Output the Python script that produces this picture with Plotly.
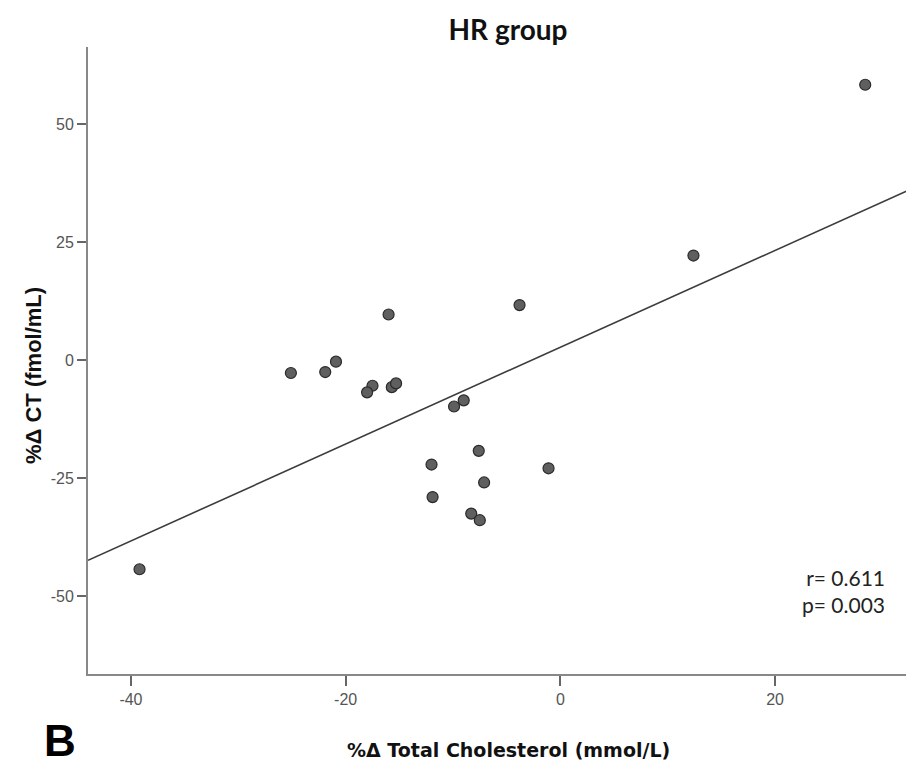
import plotly.graph_objects as go

# Scatter data
tc_change = [-16.0, -3.8, -25.1, -21.9, -20.9, -17.5, -18.0, -15.7, -15.3,
             -9.9, -9.0, -7.6, -12.0, -1.1, -7.1, -11.9, -8.3, -7.5,
             -39.2, 12.4, 28.4]
ct_change = [9.7, 11.7, -2.7, -2.5, -0.3, -5.4, -6.8, -5.7, -4.9,
             -9.8, -8.5, -19.2, -22.1, -22.9, -25.9, -29.0, -32.5, -33.9,
             -44.3, 22.2, 58.4]

# Fit line endpoints
fit_x = [-44.0, 32.3]
fit_y = [-42.4, 35.9]

x_ticks = [-40, -20, 0, 20]
y_ticks = [-50, -25, 0, 25, 50]

W, H = 906, 769
ML, MR, MT, MB = 88, 0, 47, 95
PW, PH = W - ML - MR, H - MT - MB


def px_x(px):
    return (px - ML) / PW


def px_y(py):
    return (H - MB - py) / PH


fig = go.Figure()
fig.add_trace(go.Scatter(
    x=fit_x, y=fit_y, mode="lines",
    line=dict(color="#3c3c3c", width=1.6),
    hoverinfo="skip", showlegend=False))
fig.add_trace(go.Scatter(
    x=tc_change, y=ct_change, mode="markers",
    marker=dict(size=11, color="#5f5f5f",
                line=dict(color="#2a2a2a", width=1.2)),
    showlegend=False))

tickfont = dict(family="Liberation Sans Narrow, Arial Narrow, sans-serif",
                size=16, color="#555555")

fig.update_layout(
    width=W, height=H,
    margin=dict(l=ML, r=MR, t=MT, b=MB),
    paper_bgcolor="white", plot_bgcolor="white",
    title=dict(text="<b>HR group</b>",
               font=dict(family="Lato, sans-serif", size=28, color="#111111"),
               x=508 / W, xanchor="center",
               y=1 - 30 / H, yanchor="middle"),
    xaxis=dict(range=[-44.0, 32.2], tickvals=x_ticks,
               ticktext=[str(v) for v in x_ticks],
               showgrid=False, zeroline=False,
               showline=True, linecolor="#888888", linewidth=2,
               ticks="outside", ticklen=10, tickwidth=1.5, tickcolor="#666666",
               tickfont=tickfont),
    yaxis=dict(range=[-66.5, 66.4], tickvals=y_ticks,
               ticktext=[str(v) for v in y_ticks],
               showgrid=False, zeroline=False,
               showline=True, linecolor="#888888", linewidth=2,
               ticks="outside", ticklen=9, tickwidth=1.5, tickcolor="#666666",
               tickfont=tickfont),
    annotations=[
        dict(text="<b>%Δ Total Cholesterol (mmol/L)</b>",
             xref="paper", yref="paper",
             x=px_x(509), xanchor="center", y=px_y(750), yanchor="middle",
             showarrow=False,
             font=dict(family="DejaVu Sans, sans-serif", size=19,
                       color="#111111")),
        dict(text="<b>%Δ CT (fmol/mL)</b>", textangle=-90,
             xref="paper", yref="paper",
             x=px_x(33), xanchor="center", y=px_y(375), yanchor="middle",
             showarrow=False,
             font=dict(family="Liberation Sans, Arial, sans-serif", size=22,
                       color="#111111")),
        dict(text="r= 0.611<br>p= 0.003", xref="paper", yref="paper",
             x=px_x(887), xanchor="right",
             y=px_y(591), yanchor="middle",
             align="right", showarrow=False,
             font=dict(family="Lato, sans-serif", size=21, color="#222222")),
        dict(text="<b>B</b>", xref="paper", yref="paper",
             x=px_x(60), xanchor="center",
             y=px_y(767), yanchor="bottom",
             showarrow=False,
             font=dict(family="Liberation Sans, Arial, sans-serif", size=44,
                       color="#000000")),
    ],
)

fig.write_html("out.html",
               config={"displayModeBar": False},
               post_script="document.body.style.margin='0';"
                           "document.body.style.overflow='hidden';")
